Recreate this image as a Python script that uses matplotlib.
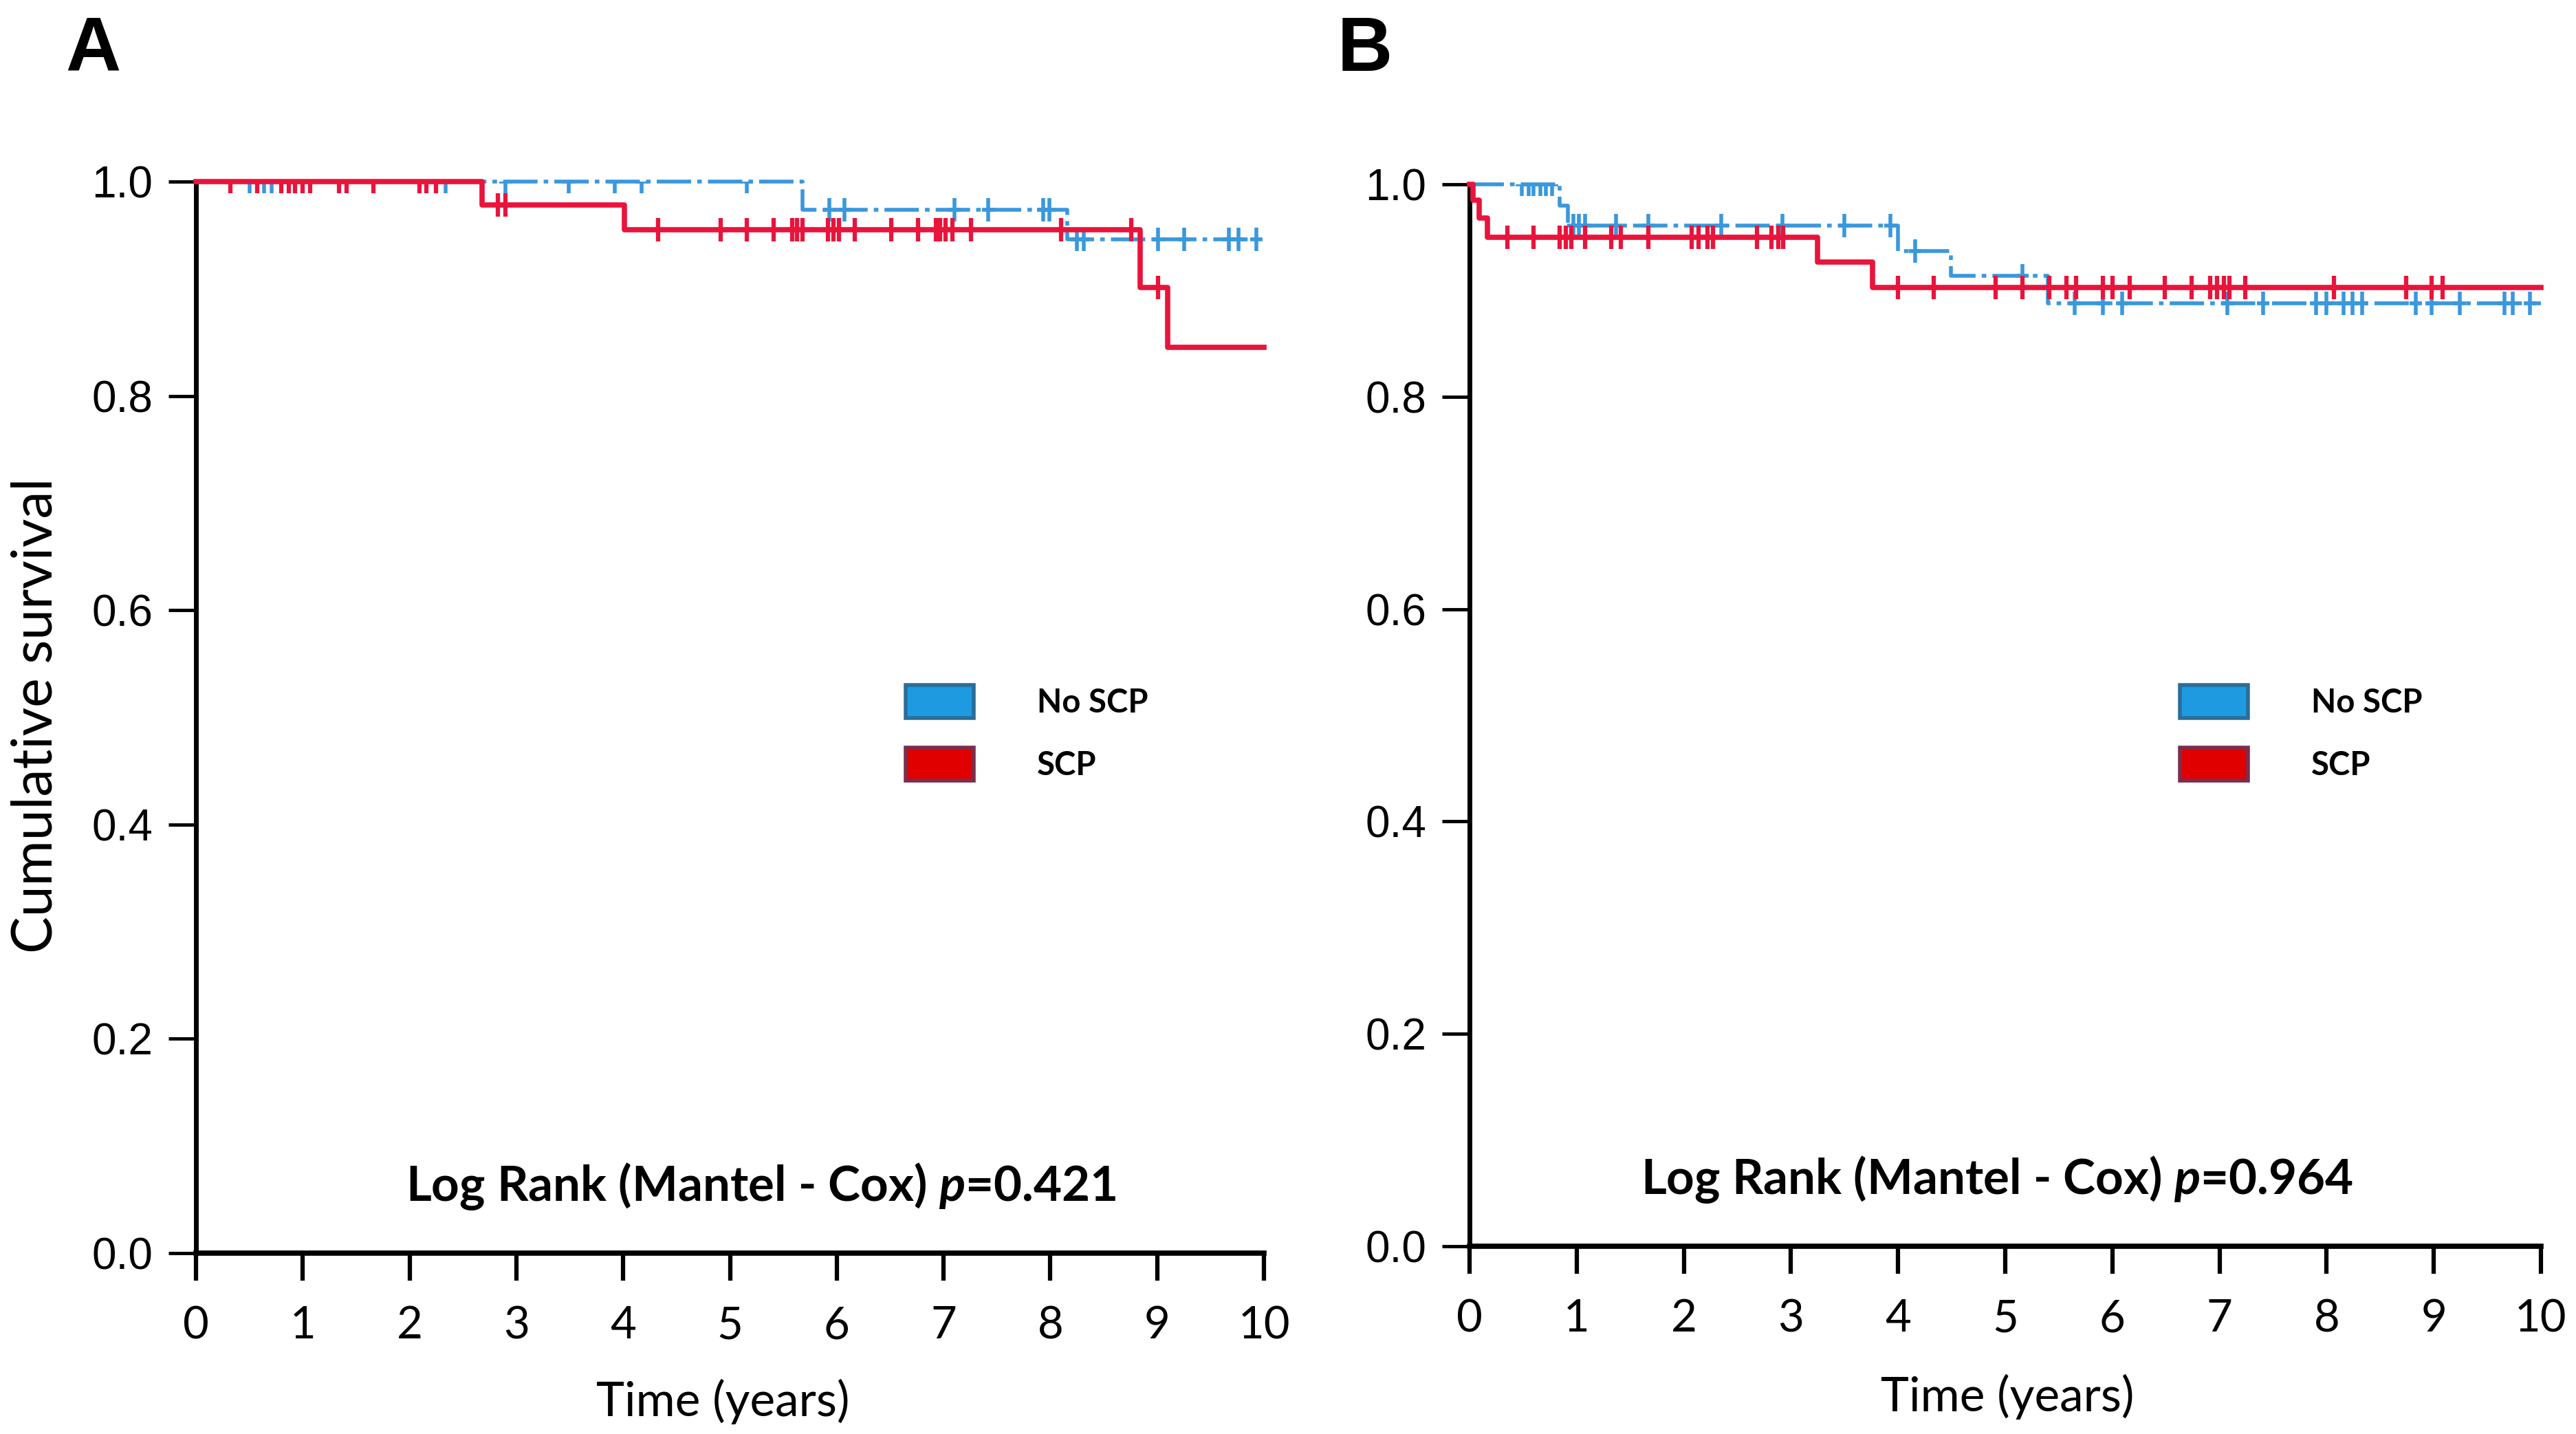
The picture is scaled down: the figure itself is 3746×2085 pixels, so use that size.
import numpy as np
import matplotlib
matplotlib.use("Agg")
import matplotlib.pyplot as plt
from matplotlib.patches import Patch
from matplotlib.path import Path

plt.rcParams['mathtext.fontset'] = 'custom'
plt.rcParams['mathtext.it'] = 'Lato:italic:bold'
plt.rcParams['mathtext.rm'] = 'Lato:bold'

# ---- data ----
# panel A : step curves (time of drop, survival after the drop)
a_noscp_t = [0, 5.68, 8.16, 10]
a_noscp_s = [1.0, 0.974, 0.946, 0.946]
a_scp_t = [0, 2.68, 4.01, 8.84, 9.10, 10]
a_scp_s = [1.0, 0.978, 0.955, 0.901, 0.845, 0.845]
# censored times
a_noscp_cens = [0.50, 0.64, 0.71, 2.34, 2.90, 3.49, 3.92, 4.17, 5.16,
                5.93, 6.07, 7.10, 7.42, 7.93, 7.99,
                8.25, 8.31, 9.01, 9.25, 9.67, 9.76, 9.93]
a_scp_cens = [0.32, 0.57, 0.80, 0.87, 0.93, 1.00, 1.07, 1.34, 1.41, 1.66, 2.09, 2.16, 2.25,
              2.83, 2.90,
              4.33, 4.91, 5.16, 5.41, 5.58, 5.63, 5.68, 5.92, 5.97, 6.02, 6.17, 6.51,
              6.76, 6.93, 6.97, 7.02, 7.08, 7.26, 8.10, 8.76,
              9.01]

# panel B
b_noscp_t = [0, 0.84, 0.915, 4.0, 4.49, 5.40, 10]
b_noscp_s = [1.0, 0.980, 0.961, 0.9375, 0.914, 0.888, 0.888]
b_scp_t = [0, 0.03, 0.09, 0.17, 3.25, 3.76, 10]
b_scp_s = [1.0, 0.985, 0.968, 0.950, 0.927, 0.903, 0.903]
b_noscp_cens = [0.49, 0.55, 0.60, 0.66, 0.71, 0.77,
                0.97, 1.02, 1.08, 1.37, 1.67, 2.35, 2.92, 3.50, 3.93,
                4.16, 5.16,
                5.65, 5.91, 6.09, 7.07, 7.41, 7.90, 8.00, 8.16, 8.24, 8.33,
                8.83, 8.98, 9.24, 9.66, 9.74, 9.90]
b_scp_cens = [0.35, 0.60, 0.84, 0.90, 0.95, 1.08, 1.32, 1.41, 1.67, 2.07, 2.14, 2.22,
              2.27, 2.68, 2.82, 2.88, 2.93,
              4.00, 4.33, 4.91, 5.16, 5.41, 5.57, 5.66, 5.91, 6.00, 6.16, 6.49, 6.74,
              6.91, 6.98, 7.04, 7.09, 7.24, 8.07, 8.74, 8.98, 9.08]

groups = ["No SCP", "SCP"]
p_values = ["0.421", "0.964"]
x_ticks = np.arange(0, 11, 1)
y_ticks = [0.0, 0.2, 0.4, 0.6, 0.8, 1.0]

blue = '#3a98dc'
red = '#e8143c'

# censor mark: tall vertical bar with short arms
cens_marker = Path([(0, -1), (0, 1), (-0.5, 0), (0.5, 0)],
                   [Path.MOVETO, Path.LINETO, Path.MOVETO, Path.LINETO])


def surv_at(t, times, surv):
    idx = np.searchsorted(times, t, side='right') - 1
    return np.array(surv)[idx]


W, H = 3746, 2085
fig = plt.figure(figsize=(W / 100, H / 100), dpi=100)

ax_a = fig.add_axes([285 / W, 1 - 1822 / H, 1553 / W, 1558 / H])
ax_b = fig.add_axes([2137 / W, 1 - 1812 / H, 1558 / W, 1544 / H])

panels = [
    (ax_a, a_noscp_t, a_noscp_s, a_noscp_cens, a_scp_t, a_scp_s, a_scp_cens, p_values[0], 5.29, 0.062),
    (ax_b, b_noscp_t, b_noscp_s, b_noscp_cens, b_scp_t, b_scp_s, b_scp_cens, p_values[1], 4.92, 0.063),
]

for ax, nt, ns, nc, st, ss, sc, pv, tx, ty in panels:
    # blue curve (No SCP) dash-dot
    ax.step(nt, ns, where='post', color=blue, lw=4,
            linestyle=(0, (9, 1.6, 1.2, 1.6)), clip_on=False, zorder=3)
    ax.plot(nc, surv_at(nc, nt, ns), linestyle='none', marker=cens_marker,
            markersize=25, mew=4, color=blue, zorder=3)
    # red curve (SCP) solid
    ax.step(st, ss, where='post', color=red, lw=5.5, clip_on=False, zorder=4)
    ax.plot(sc, surv_at(sc, st, ss), linestyle='none', marker=cens_marker,
            markersize=25, mew=4.5, color=red, zorder=4)

    ax.set_xlim(0, 10)
    ax.set_ylim(0, 1.0)
    ax.spines['top'].set_visible(False)
    ax.spines['right'].set_visible(False)
    ax.spines['left'].set_linewidth(5)
    ax.spines['bottom'].set_linewidth(5.5)
    ax.set_xticks(x_ticks)
    ax.set_yticks(y_ticks)
    ax.set_yticklabels(["%.1f" % v for v in y_ticks])
    ax.tick_params(axis='x', direction='out', length=29, width=4.5, pad=26, labelsize=47)
    ax.tick_params(axis='y', direction='out', length=29, width=3.5, pad=16, labelsize=46)
    for lbl in ax.get_xticklabels():
        lbl.set_fontfamily('Lato')
    for lbl in ax.get_yticklabels():
        lbl.set_fontfamily('Liberation Sans')

    ax.text(tx, ty, "Log Rank (Mantel - Cox) $p$=" + pv, ha='center', va='center',
            fontsize=51, fontweight='bold', family='Lato')

    handles = [Patch(facecolor='#1e9be0', edgecolor='#2b6d99', lw=4, label=groups[0]),
               Patch(facecolor='#e00000', edgecolor='#7a2d4d', lw=4, label=groups[1])]
    ax.legend(handles=handles, loc='upper left', frameon=False,
              handlelength=2.1, handleheight=1.2,
              handletextpad=1.95, labelspacing=0.9, borderpad=0, borderaxespad=0,
              prop={'family': 'Lato', 'size': 34, 'weight': 'bold'})

# move legends to their places (figure coords)
ax_a.get_legend().set_bbox_to_anchor((1317 / W, 1 - 996 / H), transform=fig.transFigure)
ax_b.get_legend().set_bbox_to_anchor((3170 / W, 1 - 996 / H), transform=fig.transFigure)

# axis titles and panel letters
fig.text(53 / W, 1 - 1040 / H, "Cumulative survival", rotation=90, ha='center', va='center',
         fontsize=58, family='Lato')
fig.text(1051 / W, 1 - 2038 / H, "Time (years)", ha='center', va='center',
         fontsize=50, family='Lato')
fig.text(2919 / W, 1 - 2031 / H, "Time (years)", ha='center', va='center',
         fontsize=50, family='Lato')
fig.text(95 / W, 1 - 22 / H, "A", ha='left', va='top', fontsize=80, fontweight='bold',
         family='Liberation Sans')
fig.text(1945 / W, 1 - 22 / H, "B", ha='left', va='top', fontsize=80, fontweight='bold',
         family='Liberation Sans')

fig.savefig("out.png", dpi=100)
